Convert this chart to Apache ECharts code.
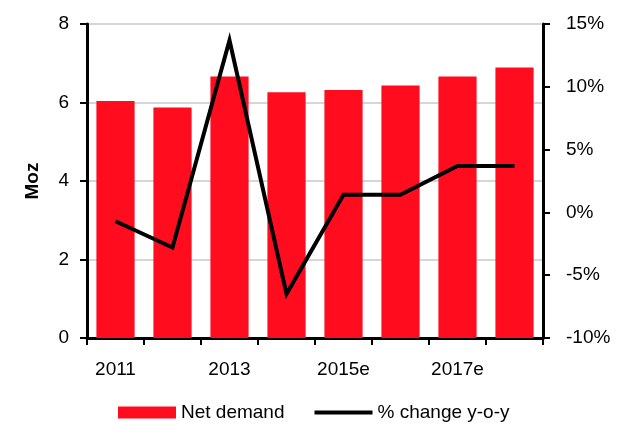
<!DOCTYPE html>
<html><head><meta charset="utf-8">
<script src="https://cdn.jsdelivr.net/npm/echarts@6/dist/echarts.min.js"></script>
<style>html,body{margin:0;padding:0;background:#fff}#c{width:624px;height:436px}</style>
</head><body><div id="c"></div>
<script>
const categories = ['2011','2012','2013','2014','2015e','2016e','2017e','2018e'];
const netDemand = [6.04, 5.87, 6.66, 6.26, 6.32, 6.43, 6.66, 6.89];
const pctChange = [-0.7, -2.8, 13.7, -6.5, 1.4, 1.4, 3.7, 3.7];
const leftTicks = {min: 0, max: 8, interval: 2};
const rightTicks = {min: -10, max: 15, interval: 5};

const font = 'Liberation Sans, Arial, sans-serif';
const fs = 19;
const chart = echarts.init(document.getElementById('c'), null, {renderer: 'canvas'});
chart.setOption({
  animation: false,
  backgroundColor: '#fff',
  grid: {left: 87, right: 81, top: 24, bottom: 98, containLabel: false},
  legend: {
    bottom: 9, left: 113, itemGap: 30, itemWidth: 58, itemHeight: 12,
    textStyle: {fontFamily: font, fontSize: fs, color: '#000'},
    data: [{name: 'Net demand', icon: 'rect'},
           {name: '% change y-o-y', icon: 'path://M0,0 H60 V4 H0 Z'}]
  },
  xAxis: {
    type: 'category', data: categories, boundaryGap: true,
    axisLine: {lineStyle: {color: '#000', width: 3}},
    axisTick: {show: true, interval: 0, length: 7, lineStyle: {color: '#000', width: 2}},
    axisLabel: {interval: 1, margin: 22, fontFamily: font, fontSize: fs, color: '#000'}
  },
  yAxis: [{
    type: 'value', min: leftTicks.min, max: leftTicks.max, interval: leftTicks.interval,
    name: 'Moz', nameLocation: 'middle', nameGap: 45, nameRotate: 90,
    nameTextStyle: {fontFamily: font, fontSize: fs, fontWeight: 'bold', color: '#000'},
    axisLine: {show: true, lineStyle: {color: '#000', width: 3}},
    axisTick: {show: true, length: 7, lineStyle: {color: '#000', width: 2}},
    axisLabel: {margin: 18, fontFamily: font, fontSize: fs, color: '#000'},
    splitLine: {show: true, lineStyle: {color: '#c8c8c8', width: 1.5}}
  }, {
    type: 'value', min: rightTicks.min, max: rightTicks.max, interval: rightTicks.interval,
    position: 'right',
    axisLine: {show: true, lineStyle: {color: '#000', width: 3}},
    axisTick: {show: true, length: 7, lineStyle: {color: '#000', width: 2}},
    axisLabel: {margin: 23, fontFamily: font, fontSize: fs, color: '#000', formatter: '{value}%'},
    splitLine: {show: false}
  }],
  series: [{
    name: 'Net demand', type: 'bar', data: netDemand, barCategoryGap: '33%',
    itemStyle: {color: '#ff0d1f'}, z: 1
  }, {
    name: '% change y-o-y', type: 'line', yAxisIndex: 1, data: pctChange,
    symbol: 'none', lineStyle: {color: '#000', width: 4, join: 'miter'},
    itemStyle: {color: '#000'}, z: 3
  }]
});
</script></body></html>
